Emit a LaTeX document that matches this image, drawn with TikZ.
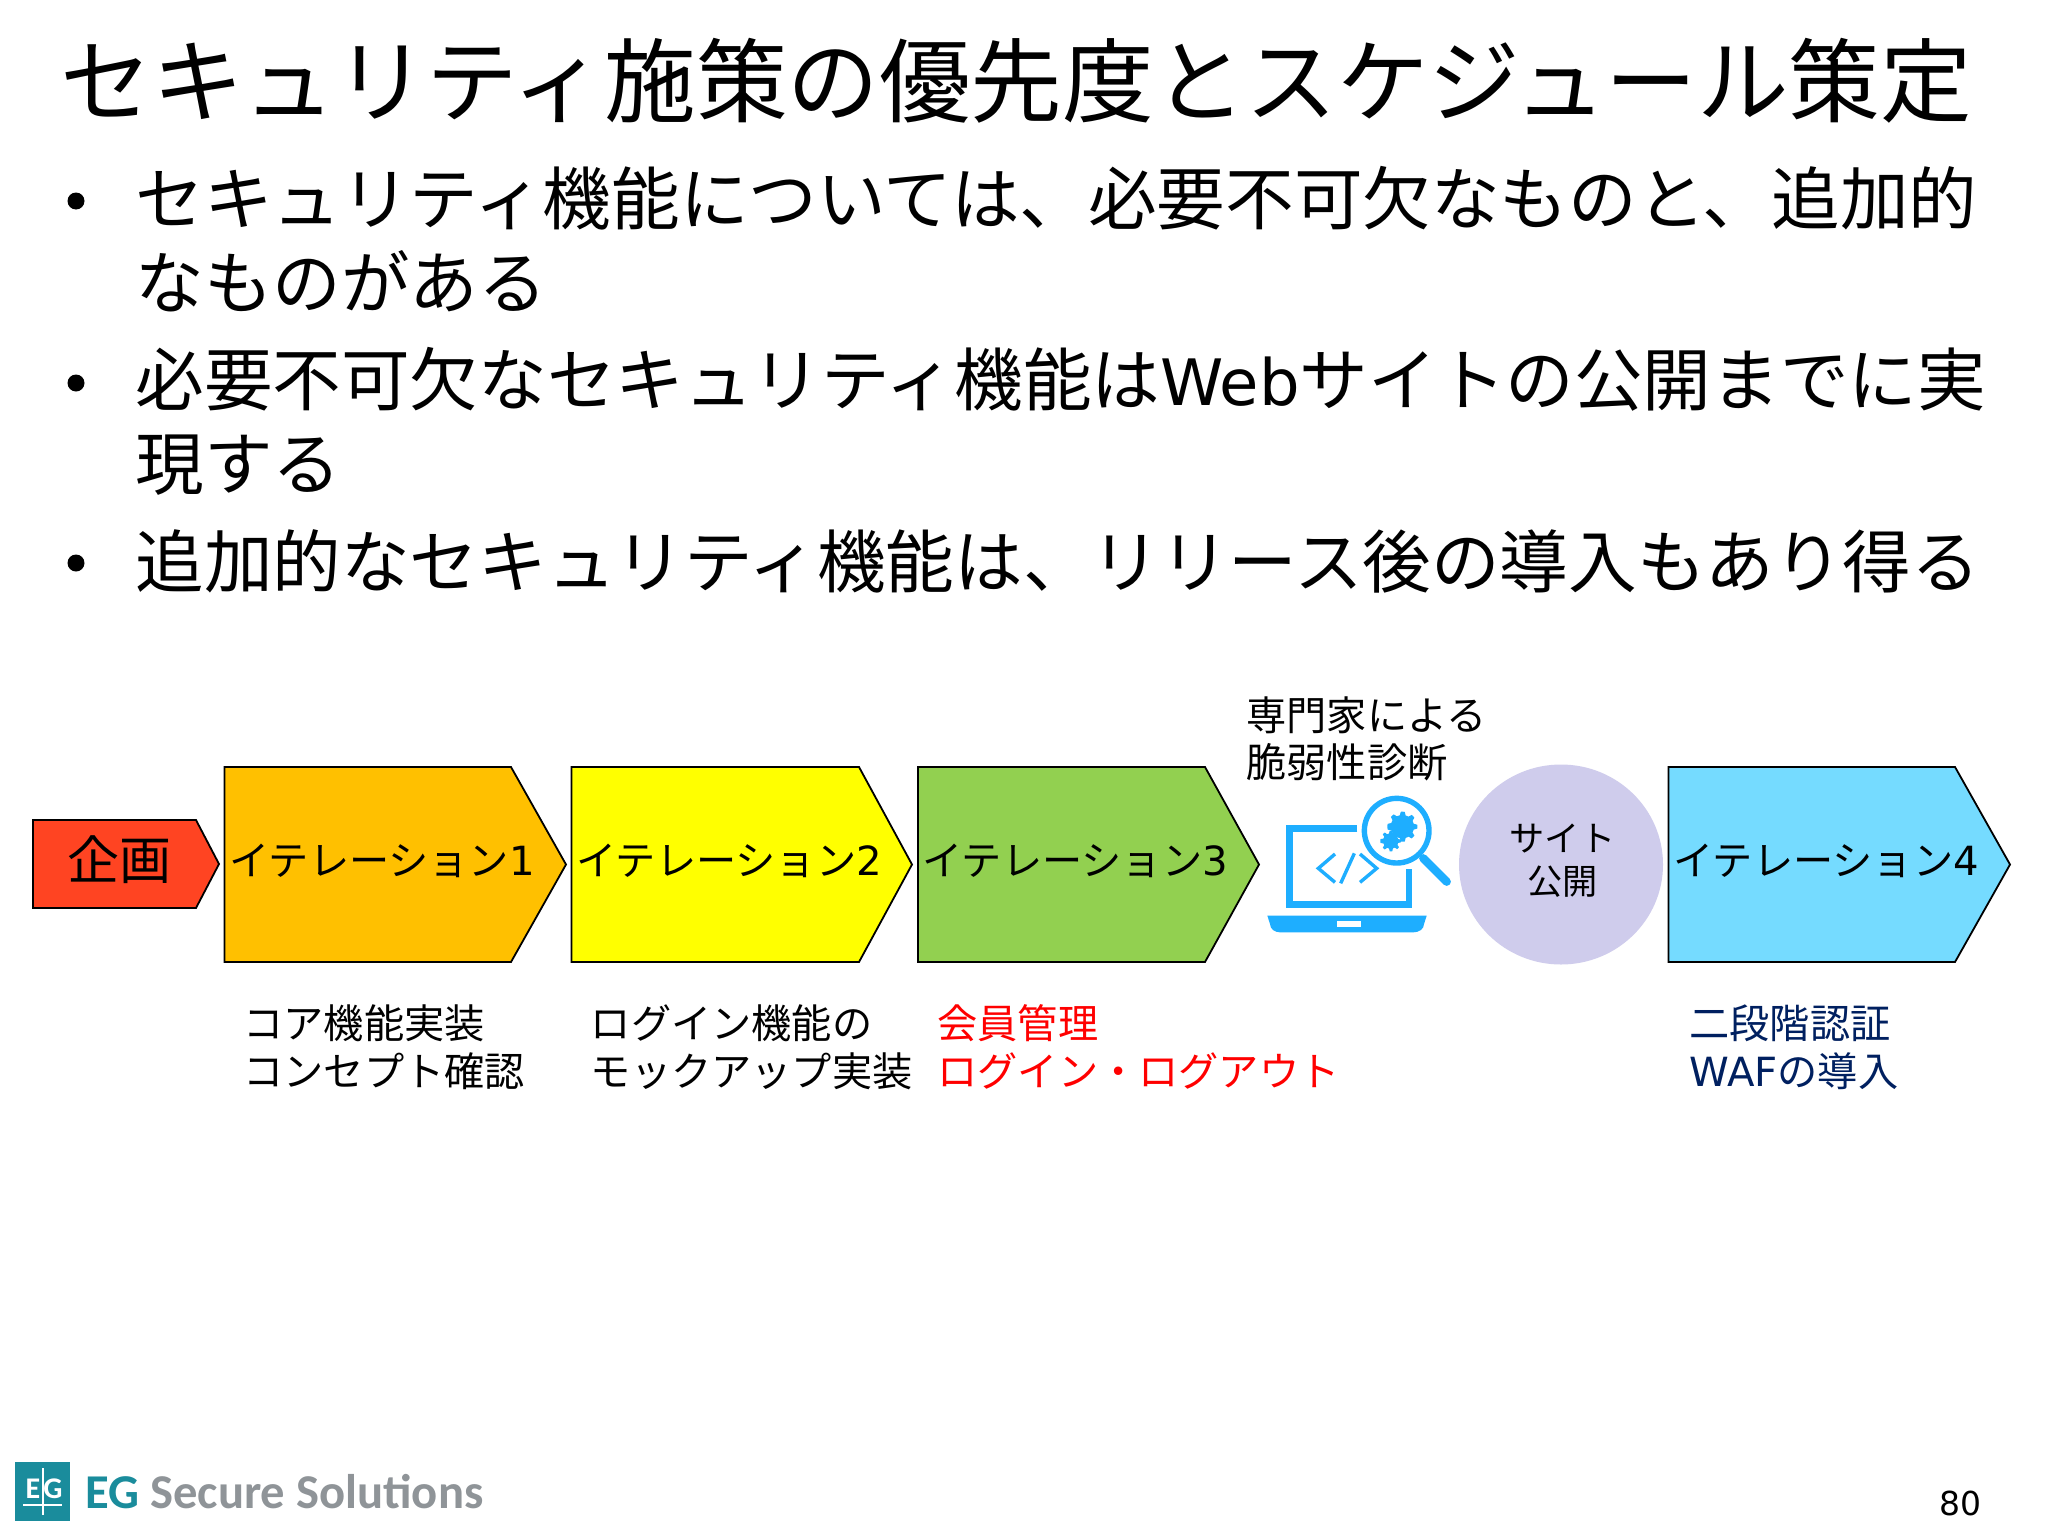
\documentclass[tikz,border=0pt]{standalone}
\usepackage{fontspec}
\setmainfont{Noto Sans CJK JP}
\newfontfamily\lat{DejaVu Sans}
\newfontfamily\logofont{Carlito}
\definecolor{cred}{HTML}{FF4422}
\definecolor{corange}{HTML}{FFC000}
\definecolor{cyellow}{HTML}{FFFF00}
\definecolor{cgreen}{HTML}{92D050}
\definecolor{cblue}{HTML}{75DBFF}
\definecolor{ccircle}{HTML}{CFCCEC}
\definecolor{cicon}{HTML}{1EAEFF}
\definecolor{cteal}{HTML}{1A8C9C}
\definecolor{cgray}{HTML}{8F9498}
\definecolor{cnavy}{HTML}{002060}
\tikzset{
  titletext/.style={anchor=west,inner sep=0pt,font=\fontsize{45.8}{50}\selectfont},
  bodytext/.style={anchor=west,inner sep=0pt,align=left,font=\fontsize{34.3}{42}\selectfont},
  bulletdot/.style={circle,fill=black,inner sep=0pt,minimum size=8.5pt},
  boxshape/.style={draw=black,line width=0.9pt,line join=miter},
  boxtext/.style={anchor=west,inner sep=0pt,font=\fontsize{20.1}{24}\selectfont},
  captext/.style={anchor=west,inner sep=0pt,align=left,font=\fontsize{20.1}{23.8}\selectfont},
  iconline/.style={draw=cicon,line width=3.4pt},
  codeline/.style={draw=cicon,line width=1.7pt}
}
\begin{document}
\begin{tikzpicture}[x=0.5pt,y=-0.5pt]
\useasboundingbox (0,0) rectangle (2048,1536);
\fill[white] (0,0) rectangle (2048,1536);
\node[titletext] (title) at (60,81) {セキュリティ施策の優先度とスケジュール策定};
\node[bulletdot] (b1) at (76,201) {};
\node[bodytext] (t1) at (135,239) {セキュリティ機能については、必要不可欠なものと、追加的\\なものがある};
\node[bulletdot] (b2) at (76,383) {};
\node[bodytext] (t2) at (135,421) {必要不可欠なセキュリティ機能は{\lat\fontsize{32}{42}\selectfont Web}サイトの公開までに実\\現する};
\node[bulletdot] (b3) at (76,563) {};
\node[bodytext] (t3) at (135,561) {追加的なセキュリティ機能は、リリース後の導入もあり得る};
% process
\draw[boxshape,fill=cred] (33,820) -- (196,820) -- (219,864) -- (196,908) -- (33,908) -- cycle;
\node[inner sep=0pt,font=\fontsize{26}{30}\selectfont] (kikaku) at (119,860) {企画};
\draw[boxshape,fill=corange] (224.5,767) -- (511,767) -- (566,864.5) -- (511,962) -- (224.5,962) -- cycle;
\node[boxtext] (it1) at (229,861) {イテレーション{\lat 1}};
\draw[boxshape,fill=cyellow] (571.5,767) -- (859,767) -- (912,864.5) -- (859,962) -- (571.5,962) -- cycle;
\node[boxtext] (it2) at (576,861) {イテレーション{\lat 2}};
\draw[boxshape,fill=cgreen] (918,767) -- (1205,767) -- (1259,864.5) -- (1205,962) -- (918,962) -- cycle;
\node[boxtext] (it3) at (922,861) {イテレーション{\lat 3}};
\draw[boxshape,fill=cblue] (1668.5,767) -- (1955,767) -- (2010,864.5) -- (1955,962) -- (1668.5,962) -- cycle;
\node[boxtext] (it4) at (1673,861) {イテレーション{\lat 4}};
\fill[ccircle] (1561,864.5) ellipse [x radius=102,y radius=100];
\node[inner sep=0pt,align=center,font=\fontsize{17.6}{21.5}\selectfont] (site) at (1562.5,861) {サイト\\公開};
\node[captext] (expert) at (1246,739) {専門家による\\脆弱性診断};
\node[captext] (c1) at (243,1047) {コア機能実装\\コンセプト確認};
\node[captext] (c2) at (590.5,1047) {ログイン機能の\\モックアップ実装};
\node[captext,text=red] (c3) at (937,1047) {会員管理\\ログイン・ログアウト};
\node[captext,text=cnavy] (c4) at (1689,1047) {二段階認証\\{\lat WAF}の導入};
% icon
\begin{scope}[shift={(1220,680)},x=0.16667pt,y=-0.16667pt]
  \draw[iconline,line cap=butt] (412,446) -- (208,446) -- (208,674) -- (567,674) -- (567,567);
  \fill[cicon] (142,707) -- (620,707) -- (612,732) to[out=-90,in=0] (580,757) -- (180,757) to[out=180,in=-90] (150,732) -- cycle;
  \fill[white] (350,722) rectangle (423,740);
  \draw[codeline] (345,522) -- (295,565) -- (345,607);
  \draw[codeline] (403,520) -- (362,610);
  \draw[codeline] (420,522) -- (470,565) -- (420,607);
  \fill[white] (530,452) circle [radius=105];
  \draw[cicon,line width=2.7pt] (530,452) circle [radius=97];
  \draw[cicon,line width=4.2pt,line cap=round] (610,535) -- (680,605);
  \fill[cicon] plot[samples=49,domain=0:352.5,variable=\a] ({547+(40+5*sign(cos(8*\a)))*cos(\a)},{440+(40+5*sign(cos(8*\a)))*sin(\a)});
  \fill[cicon] plot[samples=49,domain=0:352.5,variable=\a] ({512+(27+4*sign(cos(8*\a)))*cos(\a)},{483+(27+4*sign(cos(8*\a)))*sin(\a)});
\end{scope}
% logo
\fill[cteal] (15,1462) rectangle (70,1521);
\node[inner sep=0pt,text=white,font=\logofont\bfseries\fontsize{15}{16}\selectfont] (logoe) at (33,1489) {E};
\node[inner sep=0pt,text=white,font=\logofont\bfseries\fontsize{15}{16}\selectfont] (logog) at (53,1489) {G};
\draw[white,line width=1pt] (43,1468) -- (43,1515);
\draw[white,line width=1pt] (23,1505) -- (62,1505);
\node[anchor=base west,inner sep=0pt,text=cgray,font=\logofont\bfseries\fontsize{24.3}{28}\selectfont] (logotext) at (85,1508) {{\color{cteal}EG} Secure Solutions};
\node[inner sep=0pt,font=\lat\fontsize{16.5}{20}\selectfont] (page) at (1960,1503) {80};
\end{tikzpicture}
\end{document}
